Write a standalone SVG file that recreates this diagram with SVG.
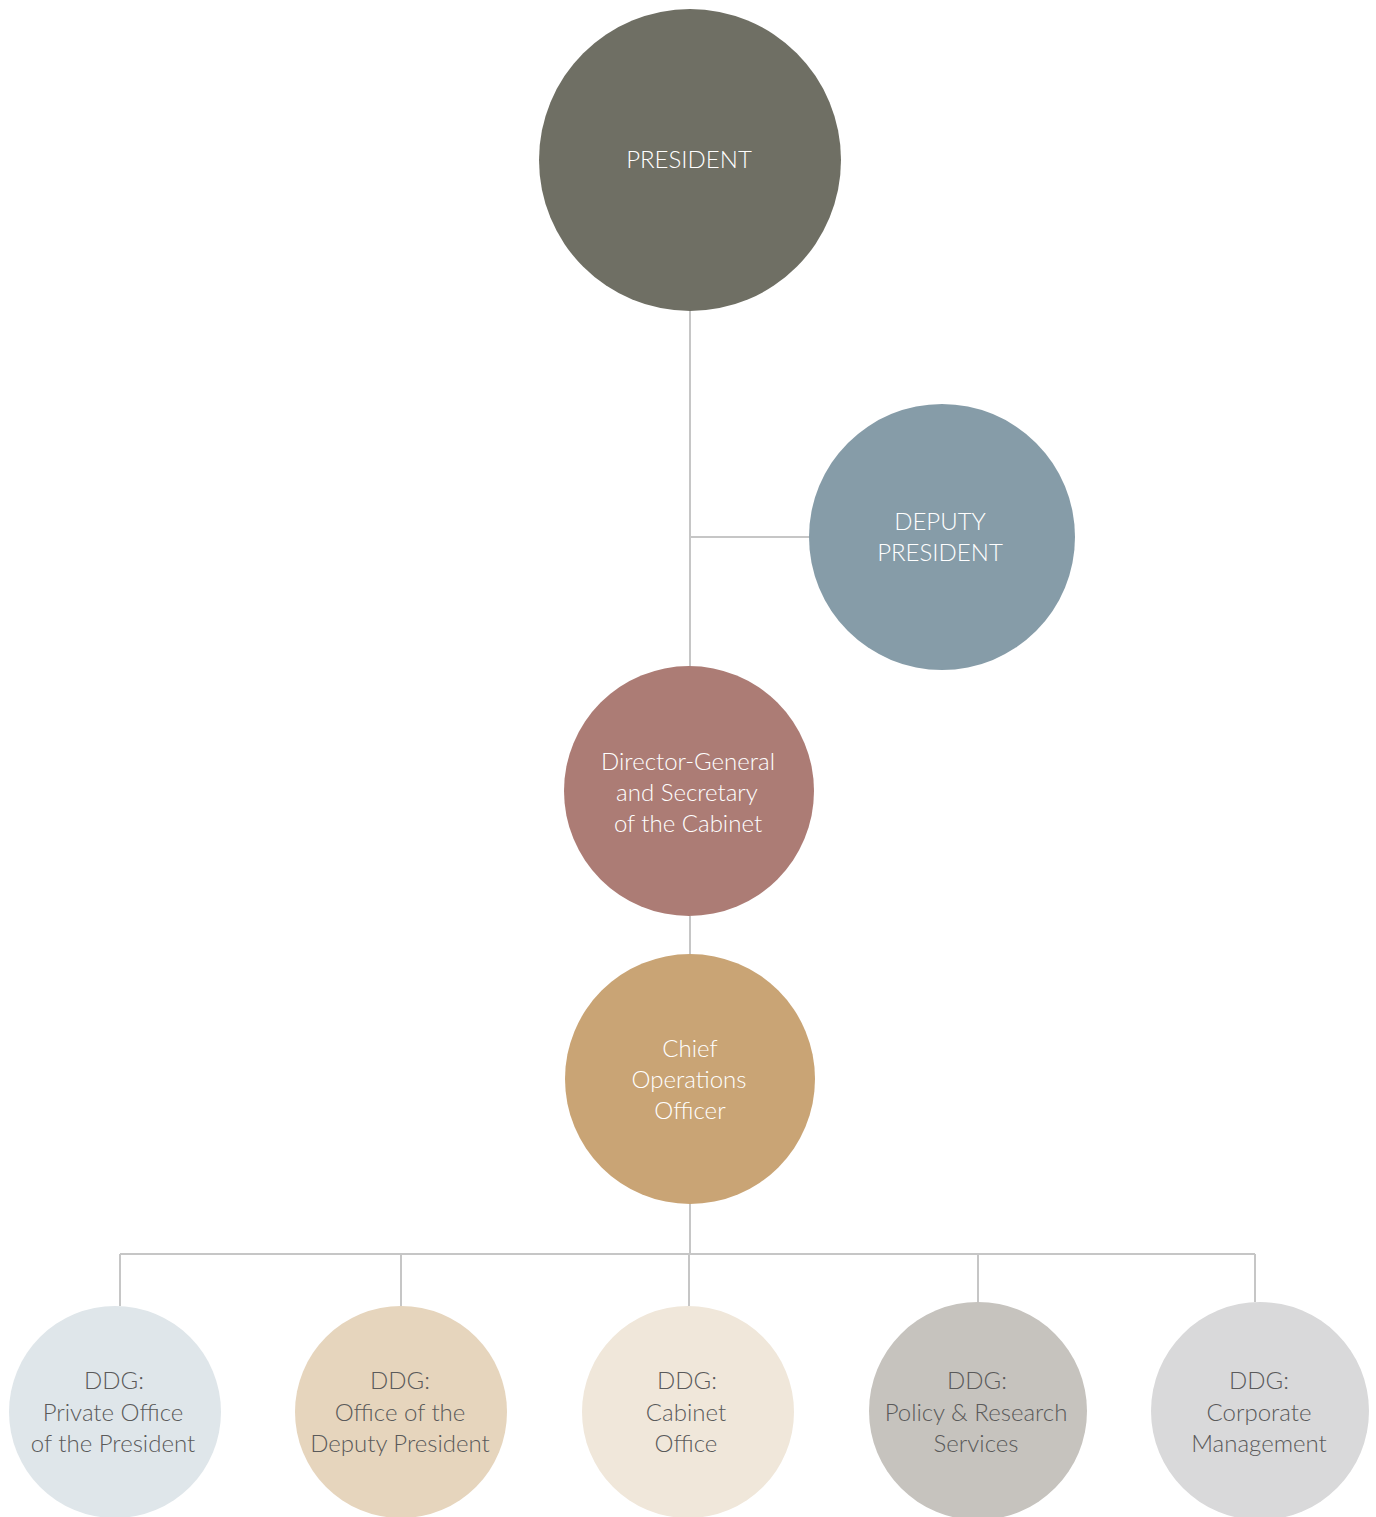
<svg xmlns="http://www.w3.org/2000/svg" width="1376" height="1517" viewBox="0 0 1376 1517">
<style>
.ln{stroke:#c6c6c6;stroke-width:2;fill:none}
text{font-family:Lato,"Liberation Sans",sans-serif;font-weight:300;font-size:24px;text-anchor:middle}
.w{fill:#ffffff}
.g{fill:#5a5a5a}
</style>
<rect width="1376" height="1517" fill="#ffffff"/>
<g id="connectors">
<path class="ln" d="M690 310V667M690 537H812M690 916V955M690 1203V1254M120 1254H1255M120 1254V1306M401 1254V1306M689 1254V1306M978 1254V1302M1255 1254V1302"/>
</g>
<g id="president"><circle cx="690" cy="160" r="151" fill="#6f6f64"/><text class="w" x="689" y="168">PRESIDENT</text></g>
<g id="deputy"><circle cx="942" cy="537" r="133" fill="#869ca8"/><text class="w" x="940" y="530">DEPUTY</text><text class="w" x="940" y="561">PRESIDENT</text></g>
<g id="dg"><circle cx="689" cy="791" r="125" fill="#ac7c75"/><text class="w" x="688" y="770">Director-General</text><text class="w" x="687" y="801">and Secretary</text><text class="w" x="688" y="832">of the Cabinet</text></g>
<g id="coo"><circle cx="690" cy="1079" r="125" fill="#c9a475"/><text class="w" x="690" y="1057">Chief</text><text class="w" x="689" y="1088">Operations</text><text class="w" x="690" y="1119">Officer</text></g>
<g id="ddg1"><circle cx="115" cy="1412" r="106" fill="#dfe6ea"/><text class="g" x="114" y="1389">DDG:</text><text class="g" x="113" y="1421">Private Office</text><text class="g" x="113" y="1452">of the President</text></g>
<g id="ddg2"><circle cx="401" cy="1412" r="106" fill="#e6d5bd"/><text class="g" x="400" y="1389">DDG:</text><text class="g" x="400" y="1421">Office of the</text><text class="g" x="400" y="1452">Deputy President</text></g>
<g id="ddg3"><circle cx="688" cy="1412" r="106" fill="#f0e7da"/><text class="g" x="687" y="1389">DDG:</text><text class="g" x="686" y="1421">Cabinet</text><text class="g" x="686" y="1452">Office</text></g>
<g id="ddg4"><circle cx="978" cy="1411" r="109" fill="#c6c3be"/><text class="g" x="977" y="1389">DDG:</text><text class="g" x="976" y="1421">Policy &amp; Research</text><text class="g" x="976" y="1452">Services</text></g>
<g id="ddg5"><circle cx="1260" cy="1411" r="109" fill="#d9d9da"/><text class="g" x="1259" y="1389">DDG:</text><text class="g" x="1259" y="1421">Corporate</text><text class="g" x="1259" y="1452">Management</text></g>
</svg>
